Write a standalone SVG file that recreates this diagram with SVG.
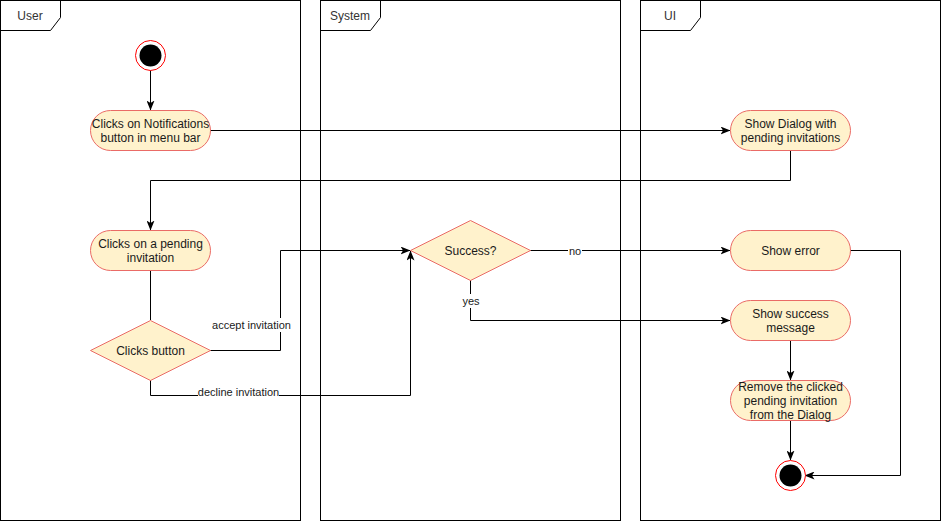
<svg xmlns="http://www.w3.org/2000/svg" width="941" height="521" viewBox="0 0 941 521">
<style>
.lane{fill:#ffffff;stroke:#000000;stroke-width:1}
.tab{fill:none;stroke:#000000;stroke-width:1}
.lt{font-family:"Liberation Sans",Arial,sans-serif;font-size:12px;fill:#333333;text-anchor:middle}
.act{fill:#fff2cc;stroke:#ea6b66;stroke-width:1}
.t{font-family:"Liberation Sans",Arial,sans-serif;font-size:12px;fill:#1a1a1a;text-anchor:middle}
.lbl{font-family:"Liberation Sans",Arial,sans-serif;font-size:11px;fill:#1a1a1a;text-anchor:middle}
.e{fill:none;stroke:#000000;stroke-width:1}
.lblbg{fill:#ffffff}
.ring{fill:#ffffff;stroke:#ff0000;stroke-width:1}
.dot{fill:#000000}
</style>
<defs>
<marker id="arr" viewBox="0 0 10 8" refX="9.5" refY="4" markerWidth="10" markerHeight="8" markerUnits="userSpaceOnUse" orient="auto">
<path d="M0,0 L10,4 L0,8 L2.5,4 z" fill="#000000"/>
</marker>
</defs>
<rect width="941" height="521" fill="#ffffff"/>
<g id="lane-user">
<rect class="lane" x="0.5" y="0.5" width="300" height="520"/>
<path class="tab" d="M0.5,30.5 L50.5,30.5 L60.5,17.5 L60.5,0.5"/>
<text class="lt" x="30" y="19.5">User</text>
</g>
<g id="lane-system">
<rect class="lane" x="320.5" y="0.5" width="300" height="520"/>
<path class="tab" d="M320.5,30.5 L370.5,30.5 L380.5,17.5 L380.5,0.5"/>
<text class="lt" x="350" y="19.5">System</text>
</g>
<g id="lane-ui">
<rect class="lane" x="640.5" y="0.5" width="300" height="520"/>
<path class="tab" d="M640.5,30.5 L690.5,30.5 L700.5,17.5 L700.5,0.5"/>
<text class="lt" x="670" y="19.5">UI</text>
</g>
<g id="connectors">
<path class="e" d="M150.5,70 L150.5,110" marker-end="url(#arr)"/>
<path class="e" d="M210,130.5 L730,130.5" marker-end="url(#arr)"/>
<path class="e" d="M790.5,150 L790.5,180.5 L150.5,180.5 L150.5,230" marker-end="url(#arr)"/>
<path class="e" d="M150.5,270 L150.5,320"/>
<path class="e" d="M210,350.5 L280.5,350.5 L280.5,250.5 L410,250.5" marker-end="url(#arr)"/>
<rect class="lblbg" x="212" y="318" width="79" height="14"/>
<text class="lbl" x="251.5" y="329">accept invitation</text>
<path class="e" d="M150.5,380 L150.5,395.5 L410.5,395.5 L410.5,251" marker-end="url(#arr)"/>
<rect class="lblbg" x="198" y="385" width="81" height="14"/>
<text class="lbl" x="238.5" y="395.5">decline invitation</text>
<path class="e" d="M530,250.5 L730,250.5" marker-end="url(#arr)"/>
<rect class="lblbg" x="568" y="244" width="14" height="13"/>
<text class="lbl" x="575" y="254.5">no</text>
<path class="e" d="M470.5,280 L470.5,320.5 L730,320.5" marker-end="url(#arr)"/>
<rect class="lblbg" x="461" y="294" width="20" height="14"/>
<text class="lbl" x="471" y="304.5">yes</text>
<path class="e" d="M850,250.5 L900.5,250.5 L900.5,475.5 L805,475.5" marker-end="url(#arr)"/>
<path class="e" d="M790.5,340 L790.5,380" marker-end="url(#arr)"/>
<path class="e" d="M790.5,420 L790.5,460" marker-end="url(#arr)"/>
</g>
<g id="start">
<circle class="ring" cx="150.5" cy="55.5" r="15"/>
<circle class="dot" cx="150.5" cy="55.5" r="11"/>
</g>
<g id="clicks-notifications">
<rect class="act" x="90.5" y="110.5" width="120" height="40" rx="20" ry="20"/>
<text class="t" x="150.5" y="128">Clicks on Notifications</text>
<text class="t" x="150.5" y="142">button in menu bar</text>
</g>
<g id="show-dialog">
<rect class="act" x="730.5" y="110.5" width="120" height="40" rx="20" ry="20"/>
<text class="t" x="790.5" y="128">Show Dialog with</text>
<text class="t" x="790.5" y="142">pending invitations</text>
</g>
<g id="clicks-pending">
<rect class="act" x="90.5" y="230.5" width="120" height="40" rx="20" ry="20"/>
<text class="t" x="150.5" y="248">Clicks on a pending</text>
<text class="t" x="150.5" y="262">invitation</text>
</g>
<g id="clicks-button">
<path class="act" d="M150.5,320.5 L210.5,350.5 L150.5,380.5 L90.5,350.5 Z"/>
<text class="t" x="150.5" y="355">Clicks button</text>
</g>
<g id="success">
<path class="act" d="M470.5,220.5 L530.5,250.5 L470.5,280.5 L410.5,250.5 Z"/>
<text class="t" x="470.5" y="255">Success?</text>
</g>
<g id="show-error">
<rect class="act" x="730.5" y="230.5" width="120" height="40" rx="20" ry="20"/>
<text class="t" x="790.5" y="255">Show error</text>
</g>
<g id="show-success">
<rect class="act" x="730.5" y="300.5" width="120" height="40" rx="20" ry="20"/>
<text class="t" x="790.5" y="318">Show success</text>
<text class="t" x="790.5" y="332">message</text>
</g>
<g id="remove-invitation">
<rect class="act" x="730.5" y="380.5" width="120" height="40" rx="20" ry="20"/>
<text class="t" x="790.5" y="391">Remove the clicked</text>
<text class="t" x="790.5" y="405">pending invitation</text>
<text class="t" x="790.5" y="419">from the Dialog</text>
</g>
<g id="end">
<circle class="ring" cx="790.5" cy="475.5" r="15"/>
<circle class="dot" cx="790.5" cy="475.5" r="11"/>
</g>
</svg>
